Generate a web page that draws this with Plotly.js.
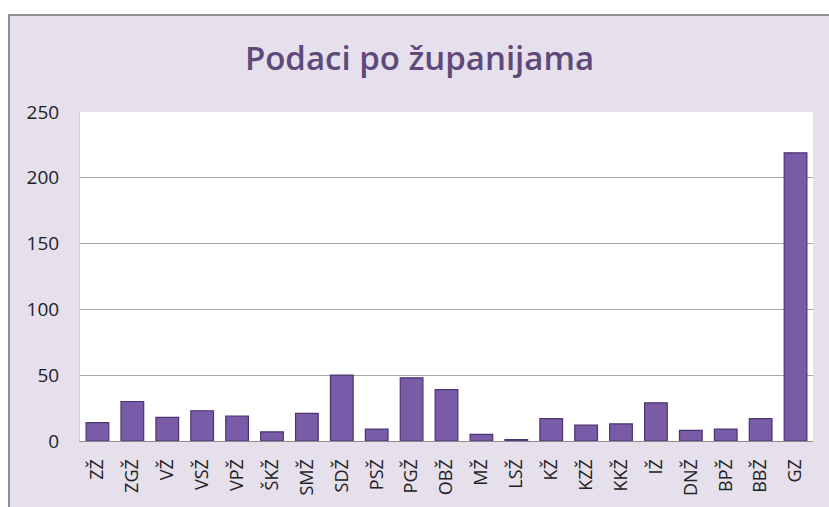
<!DOCTYPE html>
<html>
<head>
<meta charset="utf-8">
<script src="https://cdn.plot.ly/plotly-3.0.1.min.js"></script>
<style>
  html, body { margin: 0; padding: 0; background: #ffffff; width: 829px; height: 507px; overflow: hidden; }
  #chart { position: absolute; left: 8px; top: 14px; width: 819px; height: 491px;
           border-left: 2px solid #8e8e8e; border-top: 2px solid #8e8e8e; }
</style>
</head>
<body>
<div id="chart"></div>
<script>
const counties = ["ZŽ","ZGŽ","VŽ","VSŽ","VPŽ","ŠKŽ","SMŽ","SDŽ","PSŽ","PGŽ","OBŽ","MŽ","LSŽ","KŽ","KZŽ","KKŽ","IŽ","DNŽ","BPŽ","BBŽ","GZ"];
const counts = [14, 30, 18, 23, 19, 7, 21, 50, 9, 48, 39, 5, 1, 17, 12, 13, 29, 8, 9, 17, 219];
const yTicks = [0, 50, 100, 150, 200, 250];
const chartTitle = "Podaci po županijama";

const trace = {
  type: "bar",
  x: counties,
  y: counts,
  marker: { color: "#7a5ba8", line: { color: "#4b3570", width: 1.2 } },
  hoverinfo: "x+y"
};

const layout = {
  width: 819, height: 491,
  margin: { l: 70, r: 16, t: 96, b: 66 },
  paper_bgcolor: "#e5e0ec",
  plot_bgcolor: "#ffffff",
  title: {
    text: chartTitle,
    font: { family: "'Open Sans', sans-serif", size: 33, color: "#5f497a", weight: 600 },
    x: 0.5, xref: "container", xanchor: "center",
    y: 1 - 42 / 491, yref: "container", yanchor: "middle"
  },
  bargap: 0.35,
  showlegend: false,
  xaxis: {
    type: "category",
    tickangle: -90,
    tickfont: { family: "'Open Sans', sans-serif", size: 18, color: "#222222" },
    showline: true, linecolor: "#8c8c8c", linewidth: 1,
    ticks: "", ticklabelstandoff: 10,
    showgrid: false, zeroline: false, fixedrange: true
  },
  yaxis: {
    range: [0, 250],
    tickvals: yTicks,
    tickfont: { family: "'Open Sans', sans-serif", size: 19, color: "#222222" },
    showgrid: true, gridcolor: "#a6a6a6", gridwidth: 1,
    showline: true, linecolor: "#d0d0d0", linewidth: 1,
    zeroline: false, ticks: "", ticklabelstandoff: 16, fixedrange: true
  }
};

Plotly.newPlot("chart", [trace], layout, { displayModeBar: false, staticPlot: true });
</script>
</body>
</html>
